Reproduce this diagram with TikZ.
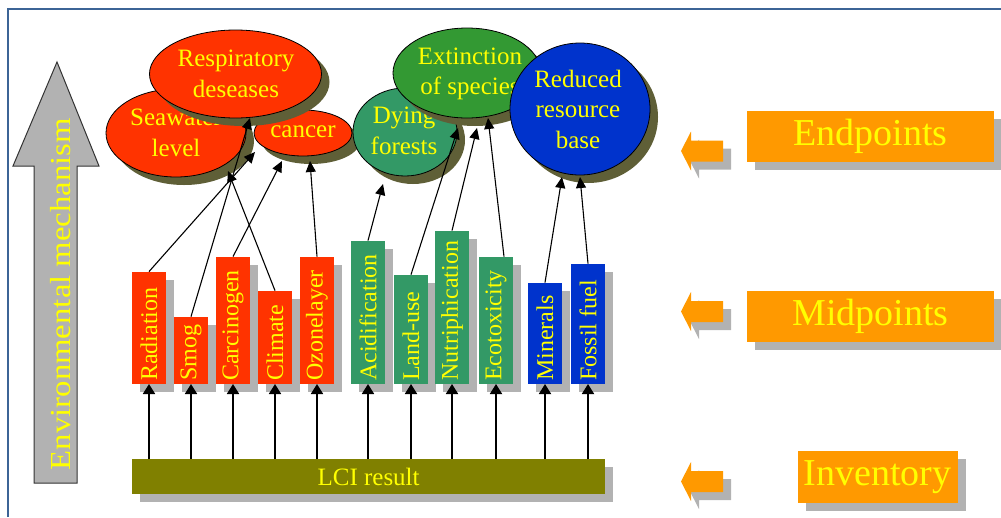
\documentclass[tikz,border=0pt]{standalone}
\usepackage{fontspec}
\setmainfont{Liberation Serif}
\usetikzlibrary{shapes.geometric,arrows.meta,shadows}
\definecolor{redc}{HTML}{FF3300}
\definecolor{greenb}{HTML}{339966}
\definecolor{greene}{HTML}{339933}
\definecolor{bluec}{HTML}{0033CC}
\definecolor{olivec}{HTML}{808000}
\definecolor{orangec}{HTML}{FF9900}
\definecolor{yel}{HTML}{FFFF00}
\definecolor{shgray}{HTML}{B2B2B2}
\definecolor{shol}{HTML}{5F5F37}
\definecolor{framec}{HTML}{3C6496}
\tikzset{
  bsh/.style={drop shadow={shadow xshift=8pt,shadow yshift=-8pt,fill=shgray,opacity=1}},
  esh/.style={drop shadow={shadow xshift=8pt,shadow yshift=-8pt,fill=shol,opacity=1}},
  barbox/.style={bsh,inner sep=0pt,minimum width=34pt,anchor=south,draw=none},
  bartxt/.style={rotate=90,anchor=west,inner sep=0pt,text=yel,font=\fontsize{24}{28}\selectfont},
  ell/.style={esh,ellipse,draw=black,line width=0.8pt,inner sep=0pt},
  elltxt/.style={align=center,inner sep=0pt,text=yel,font=\fontsize{25}{30.5}\selectfont},
  lab/.style={bsh,fill=orangec,inner sep=0pt,text=yel,font=\fontsize{38}{42}\selectfont},
  conn/.style={draw=black,line width=1.1pt,-{Triangle[length=11pt,width=10pt]}},
  varr/.style={draw=black,line width=1.8pt,-{Triangle[length=10pt,width=12pt]}},
}
\begin{document}
\begin{tikzpicture}[x=1pt,y=-1pt]
\useasboundingbox (0,0) rectangle (1001,517);
% frame
\draw[framec,line width=2pt] (7.5,517) -- (7.5,9) -- (1001,9);
% environmental mechanism arrow
\draw[fill=shgray,draw=black!80,line width=1pt] (57,62) -- (99,166) -- (77,166) -- (77,483) -- (34,483) -- (34,166) -- (13,166) -- cycle;
\node[rotate=90,inner sep=0pt,text=yel,font=\fontsize{29}{32}\selectfont] (env) at (61,294) {\scalebox{1.13}[1]{Environmental mechanism}};

% LCI result
\node[bsh,fill=olivec,minimum width=473pt,minimum height=35pt,inner sep=0pt,text=yel,font=\fontsize{25}{28}\selectfont] (lci) at (368.6,476.7) {LCI result};

% midpoint bars
\node[barbox,fill=redc,minimum height=112pt] (rad) at (149,384) {};
\node[barbox,fill=redc,minimum height=67pt] (smog) at (191,384) {};
\node[barbox,fill=redc,minimum height=127pt] (carc) at (233,384) {};
\node[barbox,fill=redc,minimum height=93pt] (clim) at (275,384) {};
\node[barbox,fill=redc,minimum height=127pt] (ozon) at (317,384) {};
\node[barbox,fill=greenb,minimum height=143pt] (acid) at (368,384) {};
\node[barbox,fill=greenb,minimum height=109pt] (land) at (411,384) {};
\node[barbox,fill=greenb,minimum height=153pt] (nutr) at (452,384) {};
\node[barbox,fill=greenb,minimum height=127pt] (eco) at (496,384) {};
\node[barbox,fill=bluec,minimum height=101pt] (mine) at (545,384) {};
\node[barbox,fill=bluec,minimum height=120pt] (foss) at (588,384) {};

\node[bartxt] (radT) at ([yshift=3pt]rad.south) {Radiation};
\node[bartxt] (smogT) at ([yshift=3pt]smog.south) {Smog};
\node[bartxt] (carcT) at ([yshift=3pt]carc.south) {Carcinogen};
\node[bartxt] (climT) at ([yshift=3pt]clim.south) {Climate};
\node[bartxt] (ozonT) at ([yshift=3pt]ozon.south) {Ozonelayer};
\node[bartxt] (acidT) at ([yshift=3pt]acid.south) {Acidification};
\node[bartxt] (landT) at ([yshift=3pt]land.south) {Land-use};
\node[bartxt] (nutrT) at ([yshift=3pt]nutr.south) {Nutriphication};
\node[bartxt] (ecoT) at ([yshift=3pt]eco.south) {Ecotoxicity};
\node[bartxt] (mineT) at ([yshift=3pt]mine.south) {Minerals};
\node[bartxt] (fossT) at ([yshift=3pt]foss.south) {Fossil fuel};

% vertical arrows
\foreach \b in {rad,smog,carc,clim,ozon,acid,land,nutr,eco,mine,foss}
  \draw[varr] (lci.north -| \b.south) -- (\b.south);

% endpoint ellipses
\node[ell,fill=redc,minimum width=140pt,minimum height=88pt] (sea) at (176,133) {};
\node[elltxt] (seaT) at (176,133) {Seawater\\level};
\node[ell,fill=redc,minimum width=98pt,minimum height=46pt] (canc) at (303,133) {};
\node[elltxt] (cancT) at (303,132) {cancer};
\node[ell,fill=redc,minimum width=172pt,minimum height=88pt] (resp) at (235.5,74) {};
\node[elltxt] (respT) at (236,74) {Respiratory\\deseases};
\node[ell,fill=greenb,minimum width=104pt,minimum height=88pt] (dying) at (405,132) {};
\node[elltxt] (dyingT) at (404,131) {Dying\\forests};
\node[ell,fill=greene,minimum width=148pt,minimum height=90pt] (ext) at (467,73) {};
\node[elltxt] (extT) at (470,74) {Extinction\\of species};
\node[ell,fill=bluec,minimum width=140pt,minimum height=132pt] (red) at (580,109) {};
\node[elltxt] (redT) at (578,109) {Reduced\\resource\\base};

% arrow targets
\coordinate (tResp) at (250,118);
\coordinate (tRad) at (255,152);
\coordinate (tSea) at (228,171);
\coordinate (tCanC) at (282,161);
\coordinate (tCanO) at (310,161);
\coordinate (tDying) at (383,184);
\coordinate (tExtL) at (458,128);
\coordinate (tExtN) at (477,128);
\coordinate (tExtE) at (488,118);
\coordinate (tRedM) at (562,177);
\coordinate (tRedF) at (580,177);

\draw[conn] (rad.north) -- (tRad);
\draw[conn] (smog.north) -- (tResp);
\draw[conn] (carc.north) -- (tCanC);
\draw[conn] (clim.north) -- (tSea);
\draw[conn] (ozon.north) -- (tCanO);
\draw[conn] (acid.north) -- (tDying);
\draw[conn] (land.north) -- (tExtL);
\draw[conn] (nutr.north) -- (tExtN);
\draw[conn] ([xshift=8pt]eco.north) -- (tExtE);
\draw[conn] (mine.north) -- (tRedM);
\draw[conn] (foss.north) -- (tRedF);

% right labels
\node[lab,minimum width=247pt,minimum height=51pt] (ep) at (870.5,136.3) {Endpoints};
\node[lab,minimum width=247pt,minimum height=51pt] (mp) at (870.5,316.5) {Midpoints};
\node[lab,minimum width=160pt,minimum height=52pt] (inv) at (877.7,476.7) {Inventory};

% small orange arrows
\foreach \t in {151,311.5,481.5} {
  \fill[shgray,shift={(8,8)}] (681,\t) -- (691,\t-19.5) -- (691,\t-10.5) -- (723,\t-10.5) -- (723,\t+10.5) -- (691,\t+10.5) -- (691,\t+19.5) -- cycle;
  \fill[orangec] (681,\t) -- (691,\t-19.5) -- (691,\t-10.5) -- (723,\t-10.5) -- (723,\t+10.5) -- (691,\t+10.5) -- (691,\t+19.5) -- cycle;
}
\end{tikzpicture}
\end{document}
